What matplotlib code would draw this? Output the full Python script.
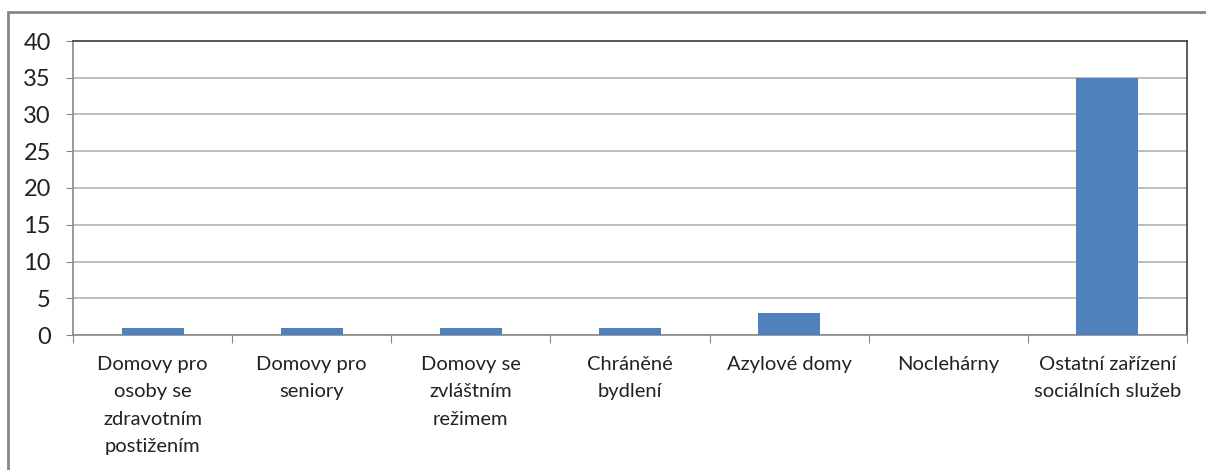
import matplotlib
matplotlib.use("Agg")
import matplotlib.pyplot as plt
from matplotlib.patches import Rectangle

# data
kategorie = ["Domovy pro\nosoby se\nzdravotním\npostižením",
             "Domovy pro\nseniory",
             "Domovy se\nzvláštním\nrežimem",
             "Chráněné\nbydlení",
             "Azylové domy",
             "Noclehárny",
             "Ostatní zařízení\nsociálních služeb"]
hodnoty = [1, 1, 1, 1, 3, 0, 35]
y_ticks = [0, 5, 10, 15, 20, 25, 30, 35, 40]

plt.rcParams['font.family'] = ['Lato', 'DejaVu Sans']

fig = plt.figure(figsize=(12.06, 4.70), dpi=100)
ax = fig.add_axes([73/1206, 1-335/470, (1187-73)/1206, (335-41)/470])

# outer frame of the chart object (cut off on right and bottom)
fig.patches.append(Rectangle((8/1206, -0.05), 1.2, 0.05 + (470-12)/470,
                             transform=fig.transFigure, fill=False,
                             edgecolor='#868686', linewidth=2))

x = range(len(kategorie))
ax.bar(x, hodnoty, width=0.39, color='#4F81BD', zorder=3)

ax.set_xlim(-0.5, len(kategorie) - 0.5)
ax.set_ylim(0, 40)
ax.set_yticks(y_ticks)
ax.tick_params(axis='y', labelsize=17, length=5, color='#888888', pad=11,
               labelcolor='#222222')
ax.set_xticks([i - 0.5 for i in range(len(kategorie) + 1)])
ax.set_xticklabels([])
ax.set_xticks(list(x), minor=True)
ax.set_xticklabels(kategorie, minor=True, fontsize=14.5, linespacing=1.75,
                   va='top', color='#222222')
ax.tick_params(axis='x', which='major', length=6, color='#888888')
ax.tick_params(axis='x', which='minor', length=0, pad=15)

ax.grid(axis='y', color='#B3B3B3', linewidth=1.2, zorder=0)
for s in ['top', 'right']:
    ax.spines[s].set_color('#404040')
    ax.spines[s].set_linewidth(1.2)
for s in ['left', 'bottom']:
    ax.spines[s].set_color('#888888')
    ax.spines[s].set_linewidth(1.2)

fig.savefig("out.png", dpi=100)
